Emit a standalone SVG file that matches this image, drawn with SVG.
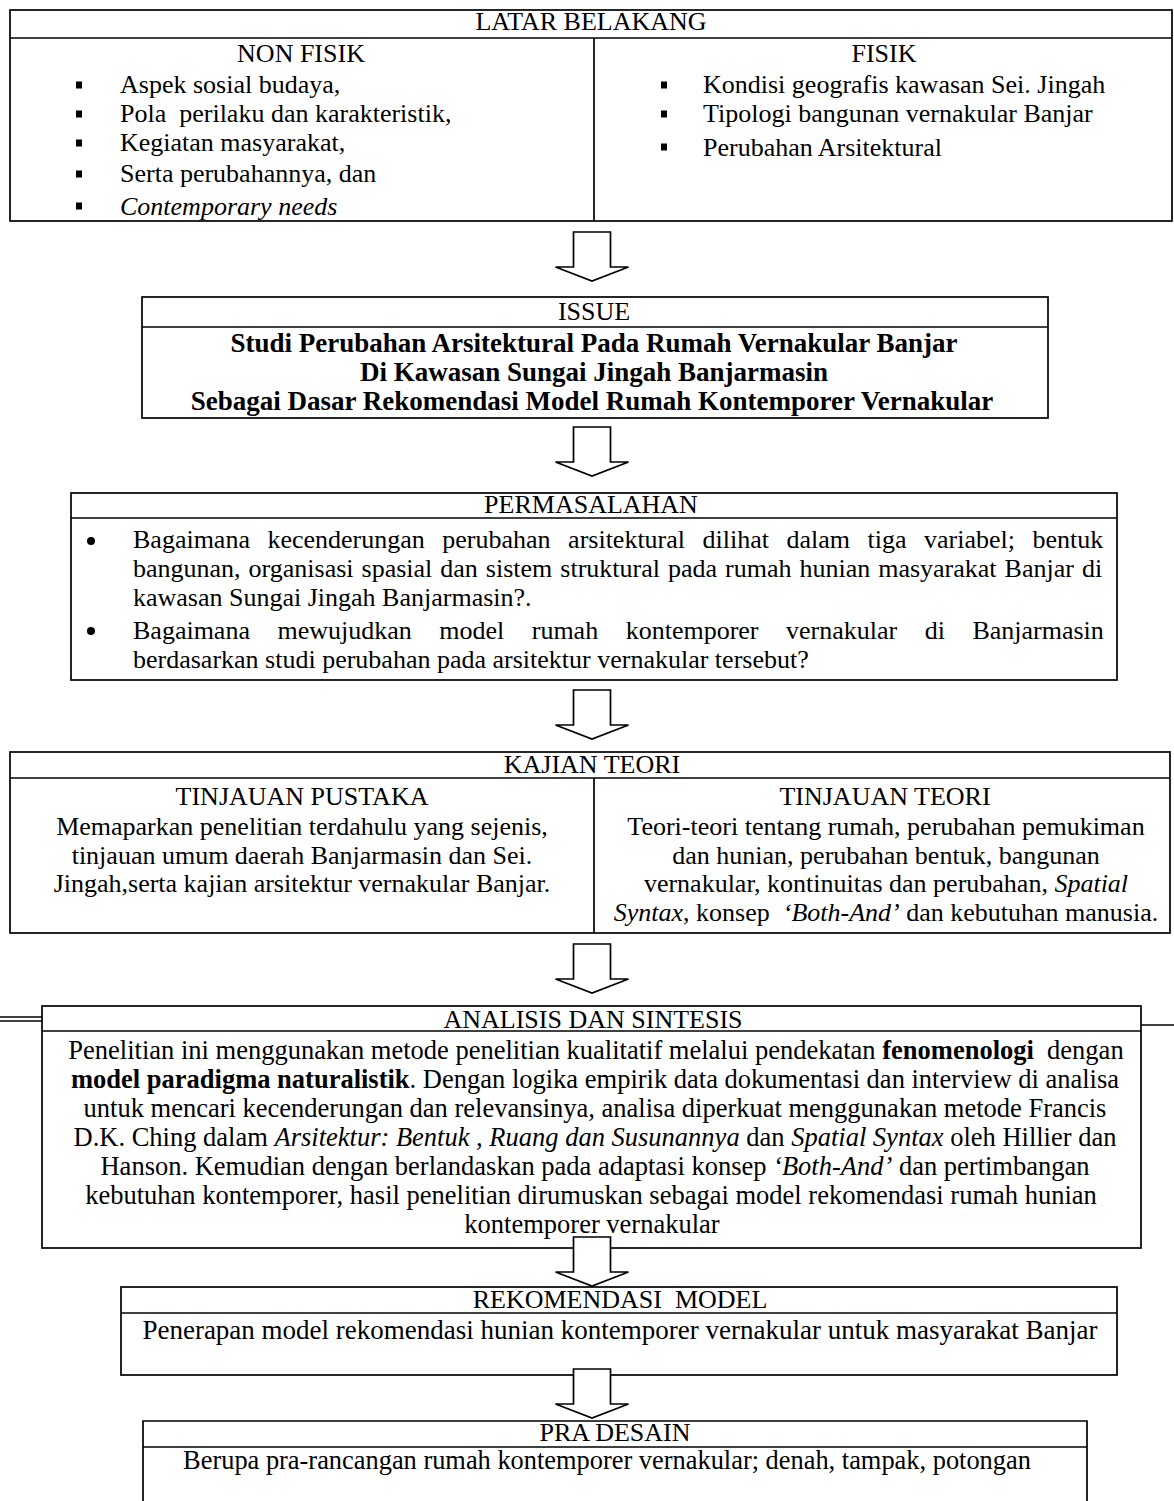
<svg xmlns="http://www.w3.org/2000/svg" xmlns:xlink="http://www.w3.org/1999/xlink" width="1174" height="1501" viewBox="0 0 1174 1501">
<style>
text{font-family:"Liberation Serif","Times New Roman",serif;font-size:26px;fill:#000}
.c{text-anchor:middle}
.b{font-weight:bold}
.i{font-style:italic}
.pre{white-space:pre}
.iss{font-size:27px}
.an{font-size:26.5px}
.box{fill:none;stroke:#000;stroke-width:1.7}
.ln{stroke:#000;stroke-width:1.7;fill:none}
.arrow{fill:#fff;stroke:#000;stroke-width:1.7;stroke-linejoin:miter}
</style>
<defs>
<path id="arr" d="M-18.5,0 H18.5 V35 H36.5 L0,49 L-36.5,35 H-18.5 Z"/>
<rect id="sq" x="-3" y="-3.5" width="6" height="7"/>
</defs>
<rect width="1174" height="1501" fill="#fff"/>

<g id="latar-belakang">
<rect class="box" x="10" y="10" width="1162" height="211"/>
<line class="ln" x1="10" y1="38" x2="1172" y2="38"/>
<line class="ln" x1="594" y1="38" x2="594" y2="221"/>
<text class="c" x="591" y="30">LATAR BELAKANG</text>
<text class="c" x="301" y="62">NON FISIK</text>
<use xlink:href="#sq" x="79" y="85"/>
<use xlink:href="#sq" x="79" y="114"/>
<use xlink:href="#sq" x="79" y="143"/>
<use xlink:href="#sq" x="79" y="174"/>
<use xlink:href="#sq" x="79" y="206"/>
<text x="120" y="93">Aspek sosial budaya,</text>
<text x="120" y="122" class="pre">Pola  perilaku dan karakteristik,</text>
<text x="120" y="151">Kegiatan masyarakat,</text>
<text x="120" y="182">Serta perubahannya, dan</text>
<text x="120" y="215" class="i">Contemporary needs</text>
<text class="c" x="884" y="62">FISIK</text>
<use xlink:href="#sq" x="664" y="85"/>
<use xlink:href="#sq" x="664" y="114"/>
<use xlink:href="#sq" x="664" y="147"/>
<text x="703" y="93">Kondisi geografis kawasan Sei. Jingah</text>
<text x="703" y="122">Tipologi bangunan vernakular Banjar</text>
<text x="703" y="156">Perubahan Arsitektural</text>
</g>

<g id="issue">
<rect class="box" x="142" y="297" width="906" height="121"/>
<line class="ln" x1="142" y1="327" x2="1048" y2="327"/>
<text class="c" x="594" y="320">ISSUE</text>
<text class="c b iss" x="594" y="352">Studi Perubahan Arsitektural Pada Rumah Vernakular Banjar</text>
<text class="c b iss" x="594" y="381">Di Kawasan Sungai Jingah Banjarmasin</text>
<text class="c b iss" x="592" y="410">Sebagai Dasar Rekomendasi Model Rumah Kontemporer Vernakular</text>
</g>

<g id="permasalahan">
<rect class="box" x="71" y="493" width="1046" height="187"/>
<line class="ln" x1="71" y1="518" x2="1117" y2="518"/>
<text class="c" x="591" y="513">PERMASALAHAN</text>
<circle cx="91" cy="541" r="4"/>
<circle cx="91" cy="631" r="4"/>
<text x="133" y="548" style="word-spacing:11px">Bagaimana kecenderungan perubahan arsitektural dilihat dalam tiga variabel; bentuk</text>
<text x="133" y="577" style="word-spacing:1.5px">bangunan, organisasi spasial dan sistem struktural pada rumah hunian masyarakat Banjar di</text>
<text x="133" y="606">kawasan Sungai Jingah Banjarmasin?.</text>
<text x="133" y="639" style="word-spacing:21px">Bagaimana mewujudkan model rumah kontemporer vernakular di Banjarmasin</text>
<text x="133" y="668">berdasarkan studi perubahan pada arsitektur vernakular tersebut?</text>
</g>

<g id="kajian-teori">
<rect class="box" x="10" y="752" width="1160" height="181"/>
<line class="ln" x1="10" y1="778" x2="1170" y2="778"/>
<line class="ln" x1="594" y1="778" x2="594" y2="933"/>
<text class="c" x="592" y="773">KAJIAN TEORI</text>
<text class="c" x="302" y="805">TINJAUAN PUSTAKA</text>
<text class="c" x="302" y="835">Memaparkan penelitian terdahulu yang sejenis,</text>
<text class="c" x="302" y="864">tinjauan umum daerah Banjarmasin dan Sei.</text>
<text class="c" x="302" y="892">Jingah,serta kajian arsitektur vernakular Banjar.</text>
<text class="c" x="885" y="805">TINJAUAN TEORI</text>
<text class="c" x="886" y="835">Teori-teori tentang rumah, perubahan pemukiman</text>
<text class="c" x="886" y="864">dan hunian, perubahan bentuk, bangunan</text>
<text class="c" x="886" y="892">vernakular, kontinuitas dan perubahan, <tspan class="i">Spatial</tspan></text>
<text class="c pre" x="886" y="921"><tspan class="i">Syntax</tspan>, konsep  <tspan class="i">‘Both-And’</tspan> dan kebutuhan manusia.</text>
</g>

<g id="analisis-sintesis">
<rect class="box" x="42" y="1006" width="1099" height="242"/>
<line class="ln" x1="42" y1="1031" x2="1141" y2="1031"/>
<line class="ln" x1="0" y1="1017" x2="42" y2="1017"/>
<line class="ln" x1="0" y1="1021" x2="42" y2="1021"/>
<line class="ln" x1="1141" y1="1025" x2="1174" y2="1025"/>
<text class="c" x="593" y="1028">ANALISIS DAN SINTESIS</text>
<text class="c an pre" x="596" y="1059">Penelitian ini menggunakan metode penelitian kualitatif melalui pendekatan <tspan class="b">fenomenologi</tspan>  dengan</text>
<text class="c an" x="595" y="1088"><tspan class="b">model paradigma naturalistik</tspan>. Dengan logika empirik data dokumentasi dan interview di analisa</text>
<text class="c an" x="595" y="1117">untuk mencari kecenderungan dan relevansinya, analisa diperkuat menggunakan metode Francis</text>
<text class="c an" x="595" y="1146">D.K. Ching dalam <tspan class="i">Arsitektur: Bentuk , Ruang dan Susunannya</tspan> dan <tspan class="i">Spatial Syntax</tspan> oleh Hillier dan</text>
<text class="c an" x="595" y="1175">Hanson. Kemudian dengan berlandaskan pada adaptasi konsep <tspan class="i">‘Both-And’</tspan> dan pertimbangan</text>
<text class="c an" x="591" y="1204">kebutuhan kontemporer, hasil penelitian dirumuskan sebagai model rekomendasi rumah hunian</text>
<text class="c an" x="592" y="1233">kontemporer vernakular</text>
</g>

<g id="rekomendasi-model">
<rect class="box" x="121" y="1287" width="996" height="88"/>
<line class="ln" x1="121" y1="1313" x2="1117" y2="1313"/>
<text class="c pre" x="620" y="1308">REKOMENDASI  MODEL</text>
<text class="c" x="620" y="1339" style="font-size:27px">Penerapan model rekomendasi hunian kontemporer vernakular untuk masyarakat Banjar</text>
</g>

<g id="pra-desain">
<path class="ln" d="M143,1502 V1421 H1087 V1502"/>
<line class="ln" x1="143" y1="1447" x2="1087" y2="1447"/>
<text class="c" x="615" y="1441">PRA DESAIN</text>
<text class="c" x="607" y="1469" style="font-size:26.4px">Berupa pra-rancangan rumah kontemporer vernakular; denah, tampak, potongan</text>
</g>

<g id="connectors">
<use xlink:href="#arr" class="arrow" x="592" y="232"/>
<use xlink:href="#arr" class="arrow" x="592" y="427"/>
<use xlink:href="#arr" class="arrow" x="592" y="690"/>
<use xlink:href="#arr" class="arrow" x="592" y="944"/>
<use xlink:href="#arr" class="arrow" x="592" y="1237"/>
<use xlink:href="#arr" class="arrow" x="592" y="1369"/>
</g>
</svg>
